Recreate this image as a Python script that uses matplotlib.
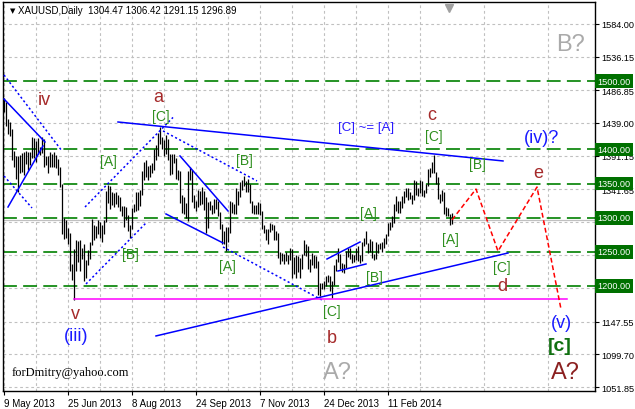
import matplotlib.pyplot as plt

plt.rcParams['lines.scale_dashes'] = False
plt.rcParams['font.family'] = ['Liberation Sans', 'DejaVu Sans']

symbol = "XAUUSD,Daily"
last_ohlc = [1304.47, 1306.42, 1291.15, 1296.89]

# daily bars, 9 May 2013 .. 28 Mar 2014 (bar index = position)
highs = [1476, 1469, 1445, 1440, 1430, 1398, 1391, 1390, 1392, 1395, 1397, 1398, 1396, 1396, 1418,
         1417, 1413, 1417, 1404, 1418, 1416, 1391, 1390, 1396, 1393, 1396, 1392, 1386, 1374, 1349,
         1300, 1297, 1285, 1278, 1232, 1254, 1267, 1266, 1268, 1255, 1262, 1238, 1252, 1264, 1298,
         1290, 1288, 1296, 1294, 1289, 1297, 1339, 1348, 1347, 1338, 1336, 1337, 1333, 1330, 1317,
         1317, 1315, 1304, 1290, 1314, 1320, 1338, 1338, 1340, 1368, 1382, 1384, 1376, 1378, 1380,
         1400, 1406, 1424, 1433, 1419, 1414, 1421, 1416, 1393, 1393, 1394, 1388, 1370, 1368, 1333,
         1330, 1321, 1368, 1374, 1370, 1333, 1324, 1340, 1339, 1345, 1339, 1330, 1323, 1325, 1318,
         1327, 1327, 1324, 1309, 1291, 1281, 1287, 1287, 1324, 1323, 1320, 1344, 1339, 1352, 1355,
         1361, 1354, 1357, 1349, 1324, 1319, 1318, 1323, 1322, 1310, 1289, 1283, 1284, 1292, 1291,
         1289, 1280, 1278, 1250, 1248, 1247, 1250, 1245, 1256, 1254, 1243, 1245, 1244, 1241, 1247,
         1267, 1262, 1258, 1239, 1248, 1246, 1244, 1236, 1205, 1205, 1207, 1215, 1216, 1214, 1207,
         1230, 1240, 1255, 1247, 1233, 1232, 1251, 1255, 1255, 1247, 1245, 1255, 1259, 1245, 1265,
         1270, 1280, 1263, 1269, 1266, 1247, 1264, 1262, 1263, 1264, 1270, 1276, 1292, 1294, 1302,
         1320, 1332, 1325, 1324, 1332, 1339, 1344, 1344, 1338, 1333, 1355, 1354, 1343, 1355, 1354,
         1341, 1349, 1371, 1373, 1382, 1392, 1367, 1360, 1335, 1340, 1337, 1315, 1314, 1306, 1306.42]
lows = [1455, 1435, 1423, 1420, 1385, 1375, 1357, 1338, 1365, 1367, 1362, 1379, 1370, 1377, 1388,
        1387, 1382, 1393, 1392, 1395, 1375, 1377, 1365, 1375, 1374, 1375, 1373, 1362, 1345, 1276,
        1269, 1270, 1262, 1222, 1208, 1180, 1222, 1235, 1222, 1240, 1207, 1212, 1230, 1240, 1260,
        1268, 1270, 1276, 1270, 1265, 1276, 1293, 1322, 1313, 1318, 1316, 1320, 1316, 1310, 1303,
        1286, 1297, 1281, 1271, 1283, 1308, 1310, 1311, 1317, 1333, 1356, 1360, 1355, 1360, 1365,
        1370, 1385, 1391, 1408, 1400, 1391, 1393, 1385, 1362, 1364, 1380, 1357, 1355, 1321, 1307,
        1306, 1300, 1295, 1355, 1323, 1314, 1310, 1316, 1319, 1320, 1311, 1277, 1285, 1312, 1306,
        1307, 1313, 1303, 1284, 1262, 1262, 1251, 1265, 1278, 1307, 1306, 1306, 1318, 1330, 1340,
        1346, 1337, 1338, 1321, 1307, 1306, 1305, 1305, 1304, 1283, 1277, 1267, 1262, 1279, 1282,
        1268, 1268, 1241, 1232, 1236, 1232, 1236, 1232, 1238, 1211, 1217, 1212, 1221, 1212, 1225,
        1246, 1244, 1225, 1221, 1230, 1227, 1226, 1187, 1185, 1195, 1196, 1200, 1206, 1192, 1182,
        1202, 1222, 1235, 1225, 1221, 1219, 1227, 1243, 1240, 1234, 1235, 1238, 1237, 1234, 1236,
        1259, 1261, 1248, 1250, 1241, 1238, 1240, 1249, 1254, 1250, 1255, 1262, 1273, 1282, 1287,
        1292, 1310, 1307, 1307, 1314, 1322, 1331, 1326, 1327, 1320, 1326, 1334, 1332, 1336, 1332,
        1331, 1336, 1346, 1359, 1366, 1365, 1350, 1328, 1321, 1325, 1306, 1303, 1302, 1290, 1291.15]

date_pos = [0, 32, 64, 96, 128, 160, 192]
date_labels = ['9 May 2013', '25 Jun 2013', '8 Aug 2013', '24 Sep 2013',
               '7 Nov 2013', '24 Dec 2013', '11 Feb 2014']
price_ticks = [1051.85, 1099.70, 1147.55, 1196.35, 1244.95, 1293.80,
               1341.65, 1391.15, 1439.00, 1486.85, 1536.15, 1584.00]
# these three sit fully under the level boxes in the terminal
hidden_ticks = [1196.35, 1244.95, 1293.80]
levels = [1500, 1400, 1350, 1300, 1250, 1200]

# trendlines as (bar, price) anchors
solid_lines = [[(57, 1440.3), (249.5, 1383.2)],
               [(76, 1126.7), (252, 1248.3)],
               [(0, 1474), (20.5, 1411)],
               [(2, 1315.7), (19.5, 1405.2)],
               [(88, 1390.5), (112, 1309.9)],
               [(81, 1305.5), (109.5, 1263.0)],
               [(161.5, 1239.5), (178, 1264.4)],
               [(167, 1221.9), (181, 1232.2)]]
dotted_lines = [[(0, 1509.2), (29, 1397.8)],
                [(0, 1361.2), (14, 1314.3)],
                [(40.5, 1315.7), (84.5, 1447)],
                [(41, 1202.9), (71.5, 1293.8)],
                [(79.5, 1427.2), (126.5, 1353.9)],
                [(109.5, 1257.1), (159, 1179.4)]]
support_line = [(35, 1180.6), (281.5, 1180.6)]
projection = [(224, 1296.89), (236, 1342), (247, 1251), (266.5, 1345), (278.5, 1166)]

red_labels = [("iv", 20, 1474), ("v", 35.5, 1159), ("a", 77, 1477), ("b", 164, 1125),
              ("c", 214, 1452), ("d", 249, 1200), ("e", 267, 1367)]
green_labels = [("[A]", 52, 1383), ("[C]", 78.5, 1449), ("[B]", 120, 1385), ("[B]", 63, 1247),
                ("[A]", 111.5, 1229), ("[A]", 182, 1307), ("[B]", 185, 1213), ("[C]", 164, 1163),
                ("[C]", 215, 1420), ("[A]", 223, 1269), ("[B]", 236.5, 1379), ("[C]", 249, 1228)]
blue_labels = [("(iii)", 36, 1127), ("(v)", 278.5, 1146), ("(iv)?", 269, 1417)]
note_label = ("[C] ~= [A]", 181, 1433)
gray_labels = [("B?", 283, 1555), ("A?", 166.5, 1074)]
big_label = ("A?", 280.5, 1074)
c_label = ("[c]", 278, 1113)
email = ("forDmitry@yahoo.com", 4, 1074)

fig = plt.figure(figsize=(6.35, 4.10), dpi=100)
ax = fig.add_axes([3 / 635, 18 / 410, 592 / 635, 389 / 410])
ax.set_xlim(-0.5, 295.5)
ax.set_ylim(1046.0, 1616.2)

# grid
ax.set_xticks(date_pos)
ax.set_xticklabels(date_labels)
ax.set_xticks(range(16, 296, 32), minor=True)
ax.set_yticks(price_ticks)
ax.set_yticklabels(["" if p in hidden_ticks else f"{p:.2f}" for p in price_ticks])
ax.yaxis.tick_right()
ax.grid(which='both', color='#c0c0c0', linestyle=(0, (2, 2)), linewidth=0.8)
ax.set_axisbelow(True)
ax.tick_params(axis='x', which='major', labelsize=7, length=3, width=0.8, pad=2)
ax.tick_params(axis='y', which='major', labelsize=6.6, length=3, width=0.8, pad=1.5)
ax.tick_params(axis='x', which='minor', length=0)
for lab in ax.get_xticklabels():
    lab.set_ha('left')
for s in ax.spines.values():
    s.set_linewidth(1)

# bid line
ax.axhline(last_ohlc[3], color='#c0c0c0', lw=0.9, zorder=1)

# levels
for lv in levels:
    ax.axhline(lv, color='#008000', lw=1.2, dashes=(10, 4.5), zorder=2)
    ax.text(1.004, lv, f"{lv:.2f}", transform=ax.get_yaxis_transform(), fontsize=6.6,
            color='white', va='center', ha='left', clip_on=False, zorder=5,
            bbox=dict(boxstyle='square,pad=0.25', fc='#007000', ec='none'))

# bars
ax.vlines(range(len(highs)), lows, highs, color='black', lw=0.9, zorder=3)

for seg in solid_lines:
    xs, ys = zip(*seg)
    ax.plot(xs, ys, color='#0000ff', lw=1.1, zorder=4)
for seg in dotted_lines:
    xs, ys = zip(*seg)
    ax.plot(xs, ys, color='#0000ff', lw=1.1, dashes=(1.5, 1.8), zorder=4)
xs, ys = zip(*support_line)
ax.plot(xs, ys, color='#ff00ff', lw=1.1, zorder=4)
xs, ys = zip(*projection)
ax.plot(xs, ys, color='#ff0000', lw=1.1, dashes=(3.5, 2), zorder=4)

for t, x, y in red_labels:
    ax.text(x, y, t, color='#a52a2a', fontsize=13, ha='center', va='center', zorder=6)
for t, x, y in green_labels:
    ax.text(x, y, t, color='#2f8f1f', fontsize=10, ha='center', va='center', zorder=6)
for t, x, y in blue_labels:
    ax.text(x, y, t, color='#1a1aff', fontsize=13, ha='center', va='center', zorder=6)
ax.text(note_label[1], note_label[2], note_label[0], color='#2a1aff', fontsize=9.5,
        ha='center', va='center', zorder=6)
for t, x, y in gray_labels:
    ax.text(x, y, t, color='#aaaaaa', fontsize=17, ha='center', va='center', zorder=6)
ax.text(big_label[1], big_label[2], big_label[0], color='#8b2020', fontsize=17,
        ha='center', va='center', zorder=6)
ax.text(c_label[1], c_label[2], c_label[0], color='#107010', fontsize=14, fontweight='bold',
        ha='center', va='center', zorder=6)
ax.text(email[1], email[2], email[0], color='black', fontsize=9, family='Liberation Serif',
        ha='left', va='center', zorder=6)

# shift marker
ax.plot([222.5], [0.985], marker='v', color='#a0a0a0', ms=6,
        transform=ax.get_xaxis_transform(), clip_on=False, zorder=6)

fig.text(10 / 635, 1 - 11 / 410, "\u25bc", fontsize=5, family='DejaVu Sans', va='center')
fig.text(18 / 635, 1 - 11 / 410,
         f"{symbol}  " + " ".join(f"{v:.2f}" for v in last_ohlc),
         fontsize=7, va='center')

fig.savefig('out.png', dpi=100)
